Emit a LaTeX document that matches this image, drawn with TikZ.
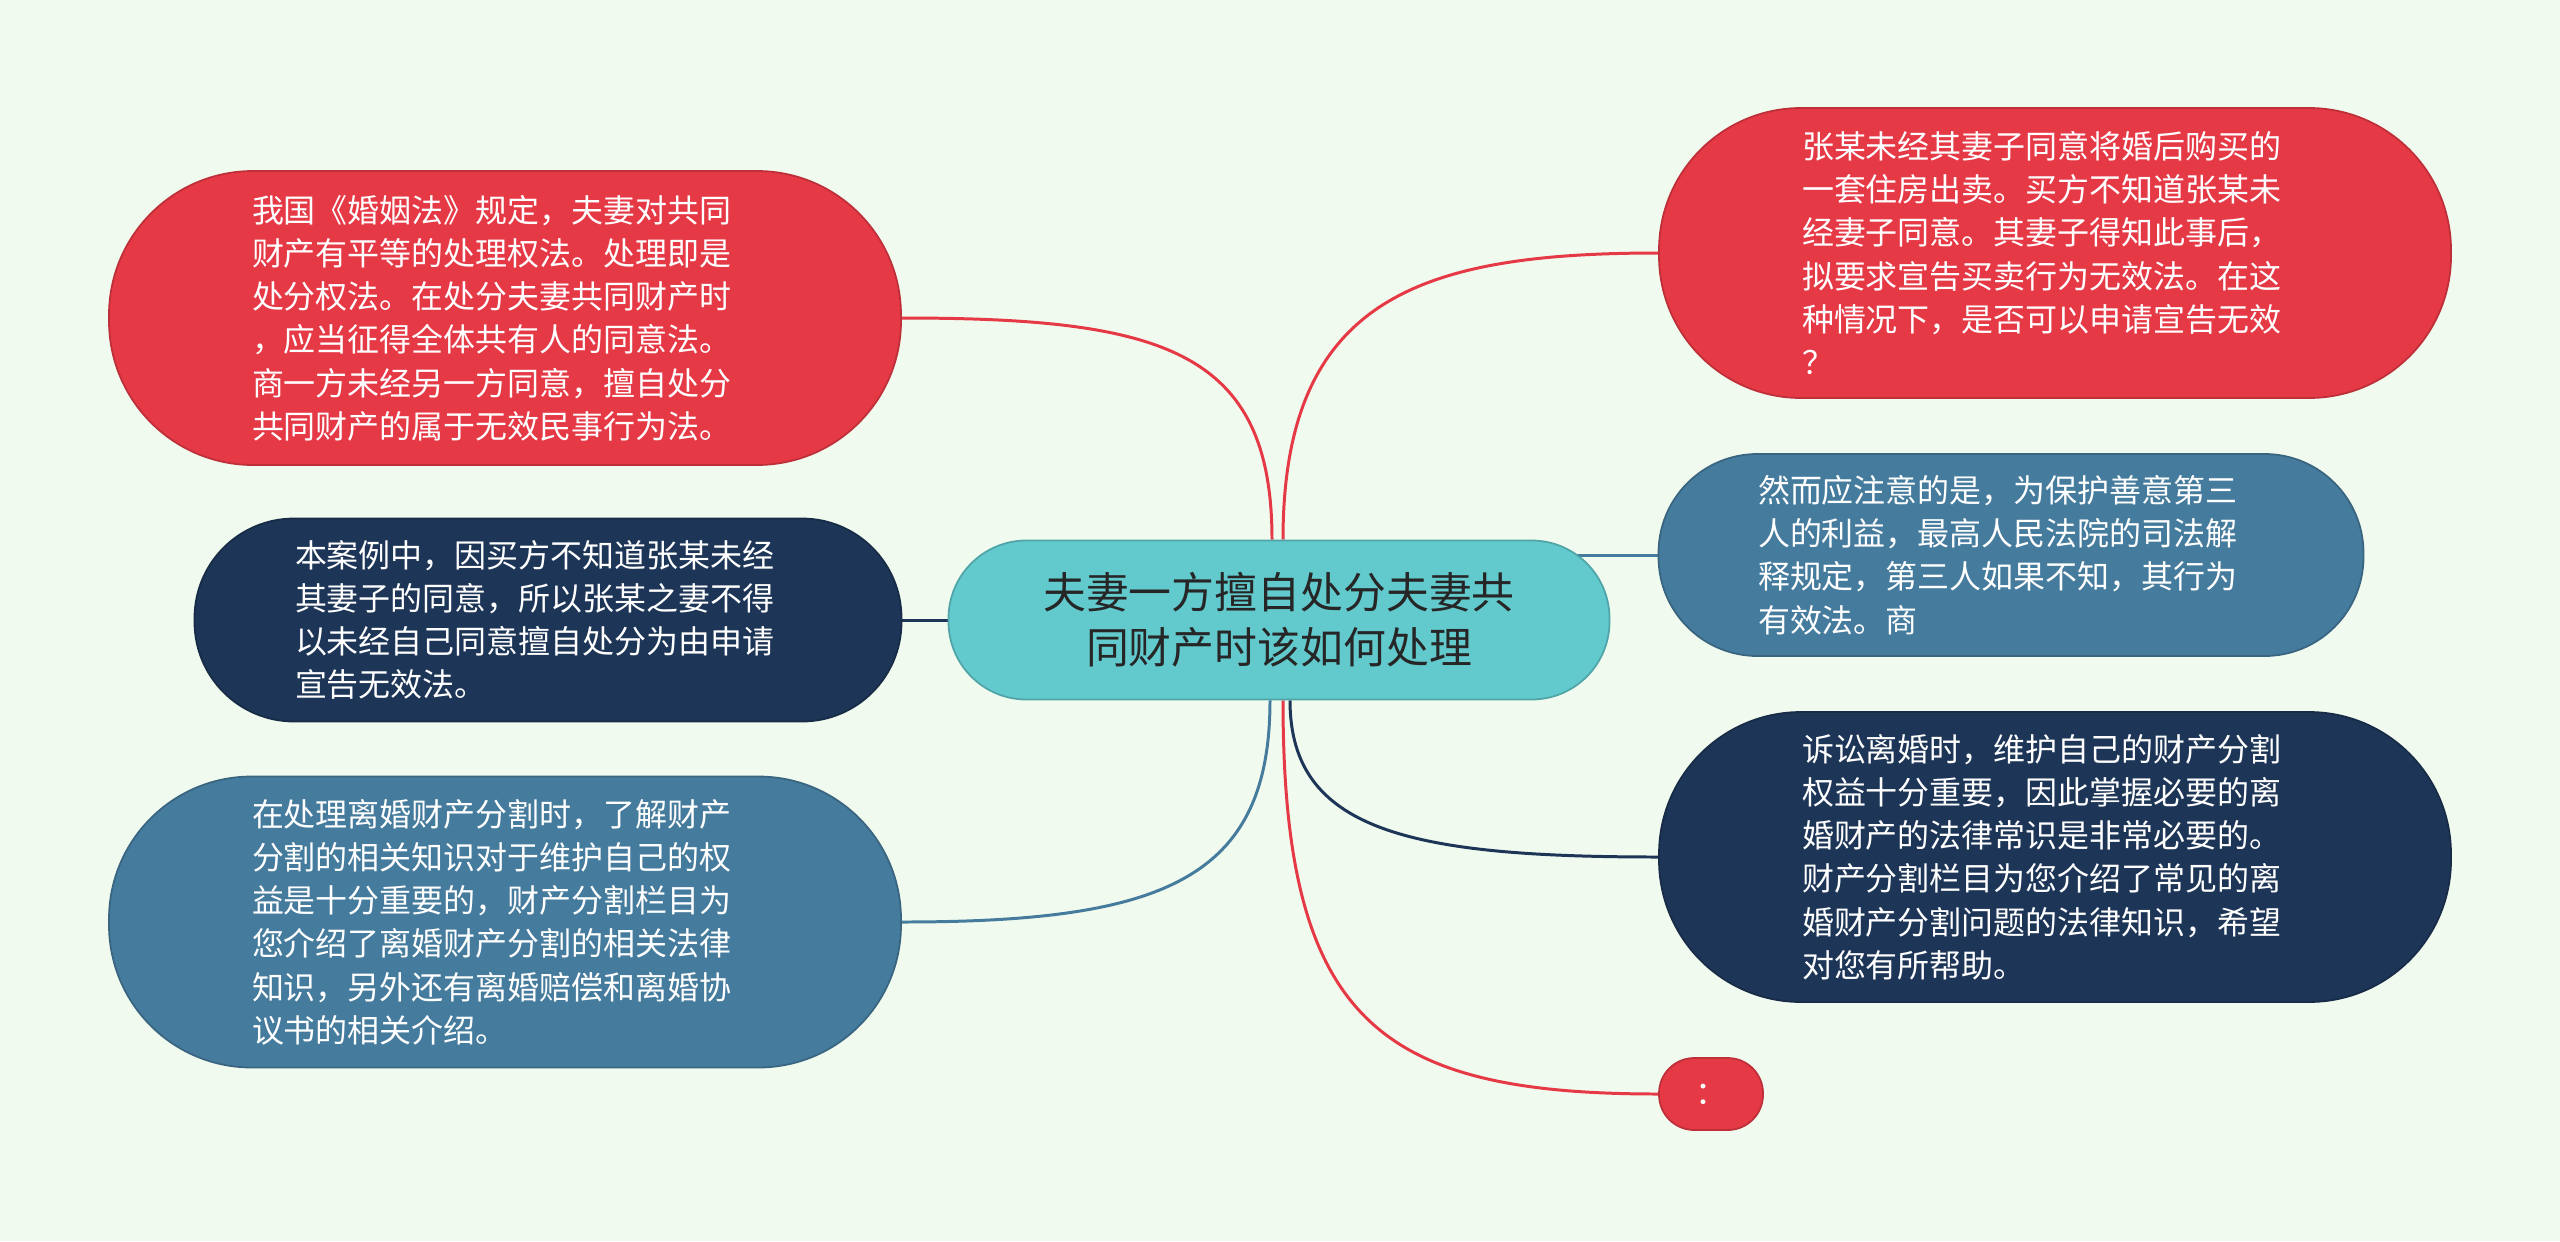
\documentclass[tikz,border=0pt]{standalone}
\usepackage{fontspec}
\newfontfamily\cjk{Noto Sans CJK SC}
\usetikzlibrary{backgrounds}
\definecolor{bgmint}{HTML}{F1FAEE}
\definecolor{mapred}{HTML}{E63946}
\definecolor{mapnavy}{HTML}{1D3557}
\definecolor{mapsteel}{HTML}{457B9D}
\definecolor{mapteal}{HTML}{62C9CD}
\tikzset{
  pill/.style n args={3}{fill=#1, draw=#1!82!black, line width=0.5pt,
    minimum width=#2cm, minimum height=#3cm, rounded corners=0.49*#3cm, inner sep=0pt},
  leaftext/.style={text=white, font=\cjk\fontsize{9.1pt}{12.3pt}\selectfont},
  leaf/.style={leaftext, align=left, text width=5.06cm},
  topicbox/.style={align=center, text=black!85, font=\cjk\fontsize{12.2pt}{15.6pt}\selectfont},
  link/.style={draw=#1, line width=0.85pt}
}
\begin{document}
\begin{tikzpicture}
\useasboundingbox (0,0) rectangle (25.6,-12.41);
\node[pill={mapteal}{6.61}{1.59}, topicbox] (topic) at (12.79,-6.20) {夫妻一方擅自处分夫妻共\\同财产时该如何处理};
\node[pill={mapred}{7.92}{2.94}, leaf] (rule) at (5.05,-3.18) {我国《婚姻法》规定，夫妻对共同\\财产有平等的处理权法。处理即是\\处分权法。在处分夫妻共同财产时\\，应当征得全体共有人的同意法。\\商一方未经另一方同意，擅自处分\\共同财产的属于无效民事行为法。};
\node[pill={mapnavy}{7.07}{2.03}, leaf] (buyer) at (5.48,-6.20) {本案例中，因买方不知道张某未经\\其妻子的同意，所以张某之妻不得\\以未经自己同意擅自处分为由申请\\宣告无效法。};
\node[pill={mapsteel}{7.92}{2.91}, leaf] (split) at (5.05,-9.22) {在处理离婚财产分割时，了解财产\\分割的相关知识对于维护自己的权\\益是十分重要的，财产分割栏目为\\您介绍了离婚财产分割的相关法律\\知识，另外还有离婚赔偿和离婚协\\议书的相关介绍。};
\node[pill={mapred}{7.92}{2.90}, leaf] (case) at (20.55,-2.53) {张某未经其妻子同意将婚后购买的\\一套住房出卖。买方不知道张某未\\经妻子同意。其妻子得知此事后，\\拟要求宣告买卖行为无效法。在这\\种情况下，是否可以申请宣告无效\\？};
\node[pill={mapsteel}{7.05}{2.02}, leaf] (thirdparty) at (20.11,-5.55) {然而应注意的是，为保护善意第三\\人的利益，最高人民法院的司法解\\释规定，第三人如果不知，其行为\\有效法。商};
\node[pill={mapnavy}{7.92}{2.90}, leaf] (lawsuit) at (20.55,-8.57) {诉讼离婚时，维护自己的财产分割\\权益十分重要，因此掌握必要的离\\婚财产的法律常识是非常必要的。\\财产分割栏目为您介绍了常见的离\\婚财产分割问题的法律知识，希望\\对您有所帮助。};
\node[pill={mapred}{1.04}{0.72}, leaftext] (colon) at (17.11,-10.94) {：};
\begin{pgfonlayer}{background}
\fill[bgmint] (0,0) rectangle (25.6,-12.41);
\draw[link=mapred] (rule.east) .. controls +(2.6,0) and +(0,1.9) .. ([xshift=-0.07cm]topic.north);
\draw[link=mapred] (case.west) .. controls +(-2.4,0) and +(0,2.4) .. ([xshift=0.04cm]topic.north);
\draw[link=mapnavy] (buyer.east) -- (topic.west);
\draw[link=mapsteel] (thirdparty.west) -- (thirdparty.west -| topic.center);
\draw[link=mapsteel] (split.east) .. controls +(2.6,0) and +(0,-1.8) .. ([xshift=-0.09cm]topic.south);
\draw[link=mapnavy] (lawsuit.west) .. controls +(-2.5,0) and +(0,-1.3) .. ([xshift=0.11cm]topic.south);
\draw[link=mapred] (colon.west) .. controls +(-2.8,0) and +(0,-3.2) .. ([xshift=0.04cm]topic.south);
\end{pgfonlayer}
\end{tikzpicture}
\end{document}
